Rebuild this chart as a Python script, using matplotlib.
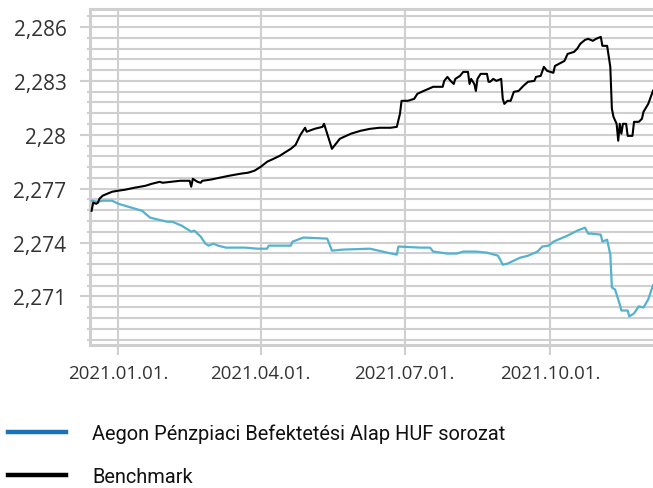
# -*- coding: utf-8 -*-
"""Aegon Pénzpiaci Befektetési Alap HUF sorozat vs benchmark, 2020.12 - 2021.12."""
import pandas as pd
import matplotlib
matplotlib.use('Agg')
import matplotlib.pyplot as plt
import matplotlib.dates as mdates
from matplotlib.ticker import MultipleLocator, FuncFormatter
from matplotlib.lines import Line2D

# benchmark (fekete vonal)
BM_DATES = [
    "2020-12-15", "2020-12-16", "2020-12-18", "2020-12-19", "2020-12-20", "2020-12-22",
    "2020-12-25", "2020-12-28", "2021-01-01", "2021-01-05", "2021-01-11", "2021-01-18",
    "2021-01-22", "2021-01-27", "2021-01-29", "2021-02-03", "2021-02-09", "2021-02-15",
    "2021-02-16", "2021-02-17", "2021-02-20", "2021-02-22", "2021-02-23", "2021-02-28",
    "2021-03-06", "2021-03-12", "2021-03-19", "2021-03-24", "2021-03-28", "2021-04-01",
    "2021-04-05", "2021-04-09", "2021-04-13", "2021-04-16", "2021-04-20", "2021-04-23",
    "2021-04-26", "2021-04-29", "2021-04-30", "2021-05-05", "2021-05-10", "2021-05-11",
    "2021-05-16", "2021-05-21", "2021-05-28", "2021-06-03", "2021-06-09", "2021-06-15",
    "2021-06-22", "2021-06-26", "2021-06-28", "2021-06-29", "2021-07-03", "2021-07-07",
    "2021-07-09", "2021-07-13", "2021-07-19", "2021-07-25", "2021-07-26", "2021-07-28",
    "2021-07-30", "2021-08-01", "2021-08-02", "2021-08-05", "2021-08-07", "2021-08-10",
    "2021-08-11", "2021-08-12", "2021-08-14", "2021-08-15", "2021-08-16", "2021-08-18",
    "2021-08-22", "2021-08-23", "2021-08-24", "2021-08-26", "2021-08-28", "2021-08-31",
    "2021-09-01", "2021-09-02", "2021-09-04", "2021-09-06", "2021-09-08", "2021-09-11",
    "2021-09-14", "2021-09-17", "2021-09-21", "2021-09-22", "2021-09-25", "2021-09-27",
    "2021-09-29", "2021-10-03", "2021-10-04", "2021-10-10", "2021-10-12", "2021-10-16",
    "2021-10-18", "2021-10-20", "2021-10-23", "2021-10-25", "2021-10-28", "2021-10-30",
    "2021-11-02", "2021-11-03", "2021-11-06", "2021-11-08", "2021-11-09", "2021-11-10",
    "2021-11-12", "2021-11-13", "2021-11-14", "2021-11-15", "2021-11-16", "2021-11-18",
    "2021-11-19", "2021-11-22", "2021-11-23", "2021-11-26", "2021-11-28", "2021-11-29",
    "2021-12-02", "2021-12-05",
]
BM_VALUES = [
    2.27577, 2.27622, 2.27616, 2.27622, 2.27644, 2.27661,
    2.27672, 2.27683, 2.27689, 2.27694, 2.27705, 2.27716,
    2.27727, 2.27738, 2.27733, 2.27738, 2.27744, 2.27744,
    2.27711, 2.27755, 2.27738, 2.27733, 2.27744, 2.27750,
    2.27761, 2.27772, 2.27783, 2.27789, 2.27800, 2.27822,
    2.27850, 2.27866, 2.27883, 2.27900, 2.27922, 2.27944,
    2.27999, 2.28039, 2.28017, 2.28033, 2.28044, 2.28061,
    2.27922, 2.27978, 2.28006, 2.28022, 2.28033, 2.28039,
    2.28039, 2.28044, 2.28117, 2.28189, 2.28189, 2.28200,
    2.28228, 2.28244, 2.28267, 2.28267, 2.28300, 2.28322,
    2.28300, 2.28283, 2.28311, 2.28328, 2.28350, 2.28350,
    2.28283, 2.28311, 2.28283, 2.28244, 2.28311, 2.28339,
    2.28339, 2.28295, 2.28295, 2.28311, 2.28300, 2.28311,
    2.28200, 2.28172, 2.28189, 2.28189, 2.28239, 2.28244,
    2.28272, 2.28295, 2.28300, 2.28322, 2.28328, 2.28378,
    2.28356, 2.28345, 2.28383, 2.28411, 2.28450, 2.28461,
    2.28478, 2.28506, 2.28528, 2.28534, 2.28523, 2.28534,
    2.28545, 2.28495, 2.28495, 2.28378, 2.28145, 2.28100,
    2.28061, 2.27967, 2.28061, 2.28006, 2.28061, 2.28061,
    2.27994, 2.27994, 2.28072, 2.28072, 2.28089, 2.28128,
    2.28172, 2.28245,
]

# alap árfolyama (kék vonal)
FUND_DATES = [
    "2020-12-15", "2020-12-19", "2020-12-22", "2020-12-28", "2021-01-01", "2021-01-07",
    "2021-01-16", "2021-01-18", "2021-01-21", "2021-01-26", "2021-02-01", "2021-02-04",
    "2021-02-10", "2021-02-12", "2021-02-16", "2021-02-18", "2021-02-22", "2021-02-25",
    "2021-02-27", "2021-03-02", "2021-03-05", "2021-03-10", "2021-03-22", "2021-03-30",
    "2021-04-05", "2021-04-06", "2021-04-20", "2021-04-21", "2021-04-28", "2021-05-13",
    "2021-05-16", "2021-05-23", "2021-06-09", "2021-06-20", "2021-06-26", "2021-06-27",
    "2021-07-11", "2021-07-17", "2021-07-19", "2021-07-28", "2021-08-03", "2021-08-07",
    "2021-08-15", "2021-08-22", "2021-08-29", "2021-08-31", "2021-09-01", "2021-09-04",
    "2021-09-12", "2021-09-17", "2021-09-23", "2021-09-26", "2021-09-30", "2021-10-03",
    "2021-10-12", "2021-10-18", "2021-10-23", "2021-10-25", "2021-10-27", "2021-11-02",
    "2021-11-03", "2021-11-06", "2021-11-08", "2021-11-09", "2021-11-11", "2021-11-14",
    "2021-11-15", "2021-11-19", "2021-11-20", "2021-11-23", "2021-11-26", "2021-11-29",
    "2021-12-02", "2021-12-05",
]
FUND_VALUES = [
    2.27633, 2.27627, 2.27633, 2.27633, 2.27616, 2.27600,
    2.27577, 2.27561, 2.27539, 2.27528, 2.27516, 2.27516,
    2.27494, 2.27483, 2.27461, 2.27466, 2.27433, 2.27394,
    2.27383, 2.27394, 2.27383, 2.27372, 2.27372, 2.27366,
    2.27366, 2.27383, 2.27383, 2.27405, 2.27428, 2.27422,
    2.27355, 2.27361, 2.27366, 2.27344, 2.27333, 2.27378,
    2.27372, 2.27372, 2.27350, 2.27339, 2.27339, 2.27350,
    2.27350, 2.27344, 2.27327, 2.27294, 2.27277, 2.27283,
    2.27316, 2.27327, 2.27350, 2.27378, 2.27383, 2.27405,
    2.27439, 2.27466, 2.27483, 2.27450, 2.27450, 2.27444,
    2.27405, 2.27416, 2.27333, 2.27150, 2.27139, 2.27056,
    2.27022, 2.27022, 2.26989, 2.27006, 2.27045, 2.27039,
    2.27084, 2.27162,
]

LABELS = ["Aegon Pénzpiaci Befektetési Alap HUF sorozat", "Benchmark"]

GRID = '#cfcfcf'
TXT = '#333333'
FONT = ['Open Sans', 'DejaVu Sans']
LEGEND_FONT = ['Roboto', 'DejaVu Sans']


def comma_fmt(v, pos):
    return f"{round(v, 3):g}".replace('.', ',')


def build():
    plt.rcParams['font.family'] = FONT
    bm_x = pd.to_datetime(BM_DATES)
    fund_x = pd.to_datetime(FUND_DATES)

    fig = plt.figure(figsize=(6.53, 4.89), dpi=100)
    ax = fig.add_axes([90 / 653, 1 - 346 / 489, 563 / 653, 336 / 489])

    ax.plot(fund_x, FUND_VALUES, color='#55b2cf', lw=1.6, zorder=3)
    ax.plot(bm_x, BM_VALUES, color='black', lw=1.5, zorder=4)

    ax.set_xlim(pd.Timestamp('2020-12-14'), pd.Timestamp('2021-12-05'))
    ax.set_ylim(2.2683, 2.287)

    ax.yaxis.set_major_locator(MultipleLocator(0.003))
    ax.yaxis.set_minor_locator(MultipleLocator(0.0006))
    ax.yaxis.set_major_formatter(FuncFormatter(comma_fmt))
    ax.xaxis.set_major_locator(mdates.MonthLocator(bymonth=[1, 4, 7, 10]))
    ax.xaxis.set_major_formatter(mdates.DateFormatter('%Y.%m.%d.'))

    ax.grid(True, which='both', axis='y', color=GRID, lw=1.5)
    ax.grid(True, which='major', axis='x', color=GRID, lw=1.5)
    ax.set_axisbelow(True)

    for s in ['left', 'bottom', 'top']:
        ax.spines[s].set_color(GRID)
        ax.spines[s].set_linewidth(2.2)
    ax.spines['right'].set_visible(False)

    ax.tick_params(axis='y', which='major', length=7, width=1.5, color=GRID,
                   labelsize=15, labelcolor=TXT, pad=10)
    ax.tick_params(axis='y', which='minor', length=2.5, width=1.5, color=GRID)
    ax.tick_params(axis='x', which='major', length=7, width=1.5, color=GRID,
                   labelsize=13.5, labelcolor=TXT, pad=7)

    handles = [Line2D([], [], color='#1a73b8', lw=3.2),
               Line2D([], [], color='black', lw=3.2)]
    fig.legend(handles, LABELS, loc='upper left', bbox_to_anchor=(8 / 653, 1 - 424 / 489),
               frameon=False, borderpad=0, borderaxespad=0, handlelength=2.9,
               handletextpad=1.3, labelspacing=1.2,
               prop={'family': LEGEND_FONT, 'size': 14.4}, labelcolor='#111111')

    fig.savefig('out.png', dpi=100)
    plt.close(fig)


if __name__ == '__main__':
    build()
